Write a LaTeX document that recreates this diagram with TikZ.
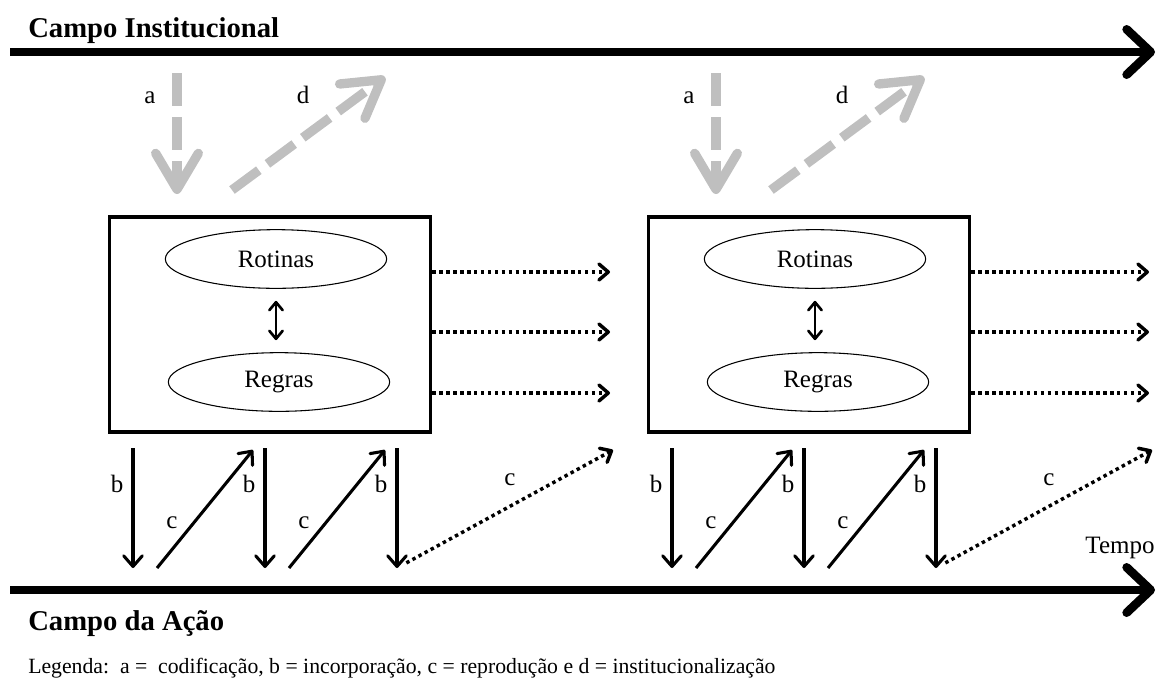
\documentclass[tikz,border=0pt]{standalone}
\usepackage{fontspec}
\setmainfont{Liberation Serif}
\usepackage{tikz}
\usetikzlibrary{arrows.meta,shapes.geometric}

\definecolor{cinzaseta}{RGB}{191,191,191}

\tikzset{
    eixo/.style={line width=6.5pt,
        -{Straight Barb[length=18pt,width=34pt,round]}},
    cinza/.style={cinzaseta,line width=7pt,dash pattern=on 25pt off 8pt,
        -{Straight Barb[length=27pt,width=32pt,round]}},
    preta/.style={line width=2.3pt,
        -{Straight Barb[length=8pt,width=14pt,round]}},
    pontilhado/.style={line width=2.6pt,dash pattern=on 2.6pt off 2.6pt,
        -{Straight Barb[length=7pt,width=12pt,round]}},
    dupla/.style={line width=2pt,
        {Straight Barb[length=6pt,width=10pt,round]}-{Straight Barb[length=6pt,width=10pt,round]}},
    caixa/.style={draw,line width=2.6pt,minimum width=241pt,minimum height=161pt,inner sep=0pt},
    elipse/.style={draw,ellipse,line width=0.8pt,minimum width=166pt,minimum height=44pt,
        inner sep=0pt,font=\fontsize{18.75}{22}\selectfont},
    rotulo/.style={anchor=base,inner sep=0pt,font=\fontsize{18.75}{22}\selectfont},
    titulo/.style={anchor=base west,inner sep=0pt,font=\fontsize{21.5}{26}\selectfont\bfseries}
}

\begin{document}
\begin{tikzpicture}[x=0.75pt,y=-0.75pt]
    \useasboundingbox
        (0,0) rectangle (1156,679);
    \coordinate (inst-ini) at (10,52);
    \coordinate (inst-fim) at (1155,52);
    \coordinate (acao-ini) at (10,590);
    \coordinate (acao-fim) at (1155,590);
    \draw[eixo]
        (inst-ini) -- (inst-fim);
    \draw[eixo]
        (acao-ini) -- (acao-fim);
    \node[titulo] (inst)
        at (28,37) {Campo Institucional};
    \node[titulo] (acao)
        at (28,630) {Campo da Ação};
    \node[rotulo] (tempo)
        at (1120,553) {Tempo};
    \node[anchor=base west,inner sep=0pt,font=\fontsize{16.3}{19}\selectfont] (legenda)
        at (28,673) {Legenda:\ \ a = \ codificação, b = incorporação, c = reprodução e d = institucionalização};

    \foreach \k/\dx in {1/0,2/539} {
        \node[caixa] (caixa\k)
            at (270+\dx,324.5) {};
        \node[elipse] (rotinas\k)
            at (276+\dx,259) {Rotinas};
        \node[elipse] (regras\k)
            at (279+\dx,382) {Regras};
        \draw[dupla,shorten <=9pt,shorten >=9pt]
            (rotinas\k.south) -- (rotinas\k.south |- regras\k.north);

        % saidas pontilhadas da caixa
        \foreach \yy/\n in {272/1,332/2,393/3} {
            \coordinate (dir\k\n) at (610+\dx,\yy);
            \draw[pontilhado]
                (caixa\k.east |- dir\k\n) -- (dir\k\n);
        }

        % a e d
        \coordinate (aini\k) at (177+\dx,73);
        \coordinate (afim\k) at (177+\dx,194);
        \coordinate (dini\k) at (232+\dx,190);
        \coordinate (dfim\k) at (385+\dx,77);
        \draw[cinza]
            (aini\k) -- (afim\k);
        \draw[cinza]
            (dini\k) -- (dfim\k);
        \node[rotulo] (la\k)
            at (150+\dx,103) {a};
        \node[rotulo] (ld\k)
            at (303+\dx,103) {d};

        % b e c
        \foreach \bx/\n in {133/1,265/2,397/3} {
            \coordinate (bini\k\n) at (\bx+\dx,448);
            \coordinate (bfim\k\n) at (\bx+\dx,568);
            \draw[preta]
                (bini\k\n) -- (bfim\k\n);
            \node[rotulo] (lb\k\n)
                at (\bx+\dx-16,492) {b};
        }
        \foreach \bx/\n in {133/1,265/2} {
            \coordinate (cini\k\n) at (\bx+\dx+24,568);
            \coordinate (cfim\k\n) at (\bx+\dx+120,450);
            \draw[preta]
                (cini\k\n) -- (cfim\k\n);
            \node[rotulo] (lc\k\n)
                at (\bx+\dx+39,528) {c};
        }
        \coordinate (cpfim\k) at (613+\dx,450);
        \draw[pontilhado,shorten <=8pt]
            (bfim\k3) -- (cpfim\k);
        \node[rotulo] (lcp\k)
            at (510+\dx,485) {c};
    }
\end{tikzpicture}
\end{document}
